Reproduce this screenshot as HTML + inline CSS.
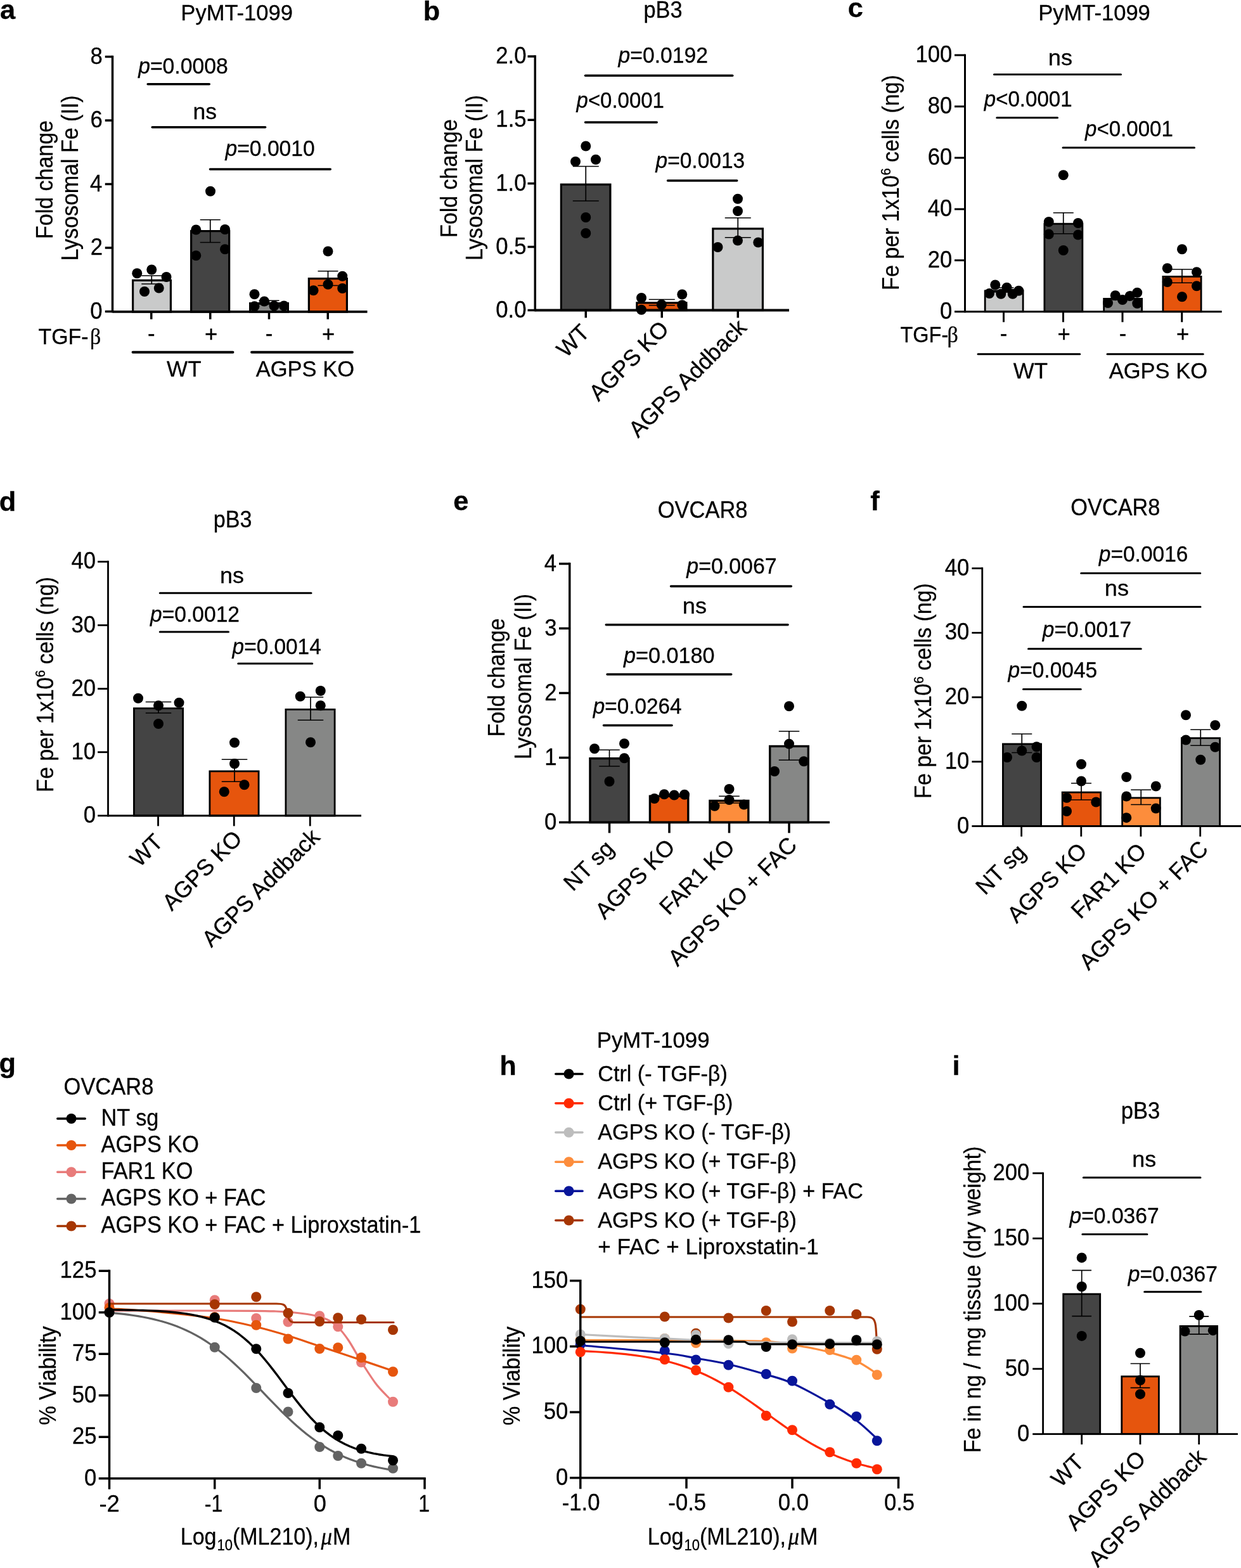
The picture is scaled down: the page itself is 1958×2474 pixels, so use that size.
<!DOCTYPE html>
<html lang="en"><head><meta charset="utf-8"><title>Figure</title>
<style>
html,body{margin:0;padding:0;background:#fff;}
body{width:1958px;height:2474px;overflow:hidden;}
svg{display:block;}
svg circle{stroke:none;}
svg text{font-family:"Liberation Sans",Arial,Helvetica,sans-serif;font-size:34px;fill:#000;stroke:#000;stroke-width:0.3px;}
</style></head>
<body>
<svg xmlns="http://www.w3.org/2000/svg" width="1958" height="2474" viewBox="0 0 1958 2474" stroke="#000">
<rect width="1958" height="2474" fill="#fff" stroke="none"/>
<text transform="translate(-0.07 30.4)" style="font-weight:bold;font-size:43.4px">a</text>
<text transform="translate(285.37 31.8) scale(1.016 1.04)">PyMT-1099</text>
<text transform="translate(83 283.5) rotate(-90) scale(1 1.06)" text-anchor="middle">Fold change</text>
<text transform="translate(123 281) rotate(-90) scale(1 1.06)" text-anchor="middle">Lysosomal Fe (II)</text>
<rect x="209.6" y="442.35" width="59.8" height="49.65" fill="#c9caca" stroke="#000" stroke-width="3.2"/>
<rect x="301.6" y="364.6" width="60.05" height="127.4" fill="#444444" stroke="#000" stroke-width="3.2"/>
<rect x="394.6" y="478.6" width="59.8" height="13.4" fill="#868786" stroke="#000" stroke-width="3.2"/>
<rect x="487.35" y="439.6" width="60.05" height="52.4" fill="#e6550d" stroke="#000" stroke-width="3.2"/>
<path d="M223.25 435H255.25M239.25 435V448M223.25 448H255.25" fill="none" stroke-width="1.7"/>
<path d="M315.75 346.75H347.75M331.75 346.75V382.5M315.75 382.5H347.75" fill="none" stroke-width="1.7"/>
<path d="M408.5 474.25H440.5M424.5 474.25V480M408.5 480H440.5" fill="none" stroke-width="1.7"/>
<path d="M501.5 427.75H533.5M517.5 427.75V450.5M501.5 450.5H533.5" fill="none" stroke-width="1.7"/>
<line x1="177.5" y1="87.75" x2="177.5" y2="493.25" stroke-width="3.5"/>
<line x1="165.75" y1="89.5" x2="177.5" y2="89.5" stroke-width="3.5"/>
<text transform="translate(142.42 100.5) scale(1.02 1.09)">8</text>
<line x1="165.75" y1="190" x2="177.5" y2="190" stroke-width="3.5"/>
<text transform="translate(142.44 201) scale(1.02 1.09)">6</text>
<line x1="165.75" y1="290.5" x2="177.5" y2="290.5" stroke-width="3.5"/>
<text transform="translate(141.93 301.5) scale(1.02 1.09)">4</text>
<line x1="165.75" y1="391" x2="177.5" y2="391" stroke-width="3.5"/>
<text transform="translate(142.66 402) scale(1.02 1.09)">2</text>
<line x1="165.75" y1="491.5" x2="177.5" y2="491.5" stroke-width="3.5"/>
<text transform="translate(142.27 502.5) scale(1.02 1.09)">0</text>
<line x1="177.5" y1="491.8" x2="579.5" y2="491.8" stroke-width="3.8"/>
<line x1="238.75" y1="491.8" x2="238.75" y2="503.7" stroke-width="3.5"/>
<line x1="331.75" y1="491.8" x2="331.75" y2="503.7" stroke-width="3.5"/>
<line x1="424.5" y1="491.8" x2="424.5" y2="503.7" stroke-width="3.5"/>
<line x1="517.25" y1="491.8" x2="517.25" y2="503.7" stroke-width="3.5"/>
<circle cx="216.25" cy="431.25" r="8"/>
<circle cx="239.25" cy="425.5" r="8"/>
<circle cx="262.5" cy="437" r="8"/>
<circle cx="250.75" cy="454.5" r="8"/>
<circle cx="228" cy="460" r="8"/>
<circle cx="332" cy="301.75" r="8"/>
<circle cx="309.25" cy="362.5" r="8"/>
<circle cx="355" cy="362" r="8"/>
<circle cx="355" cy="393.25" r="8"/>
<circle cx="309.25" cy="403.25" r="8"/>
<circle cx="401.5" cy="464.25" r="8"/>
<circle cx="417" cy="475.5" r="8"/>
<circle cx="401.5" cy="483.25" r="8"/>
<circle cx="432.5" cy="482.5" r="8"/>
<circle cx="448" cy="482.5" r="8"/>
<circle cx="517.5" cy="396.5" r="8"/>
<circle cx="540.25" cy="435.75" r="8"/>
<circle cx="517.5" cy="448.75" r="8"/>
<circle cx="494.5" cy="458.25" r="8"/>
<circle cx="540.25" cy="455" r="8"/>
<line x1="233.2" y1="132.8" x2="330.2" y2="132.8" stroke-width="3.6" stroke-linecap="round"/>
<text transform="translate(218.14 116.3) scale(0.992 1.04)"><tspan font-style="italic">p</tspan>=0.0008</text>
<line x1="240.2" y1="200.7" x2="418.6" y2="200.7" stroke-width="3.6" stroke-linecap="round"/>
<text transform="translate(304.44 187.9) scale(1.046 1.04)">ns</text>
<line x1="331.5" y1="267" x2="521.2" y2="267" stroke-width="3.6" stroke-linecap="round"/>
<text transform="translate(355.54 246) scale(0.989 1.04)"><tspan font-style="italic">p</tspan>=0.0010</text>
<text transform="translate(60.44 543.2) scale(0.997 1.04)">TGF-</text>
<text transform="translate(142 543.2) scale(1 1.06)" style="font-family:'Liberation Serif',serif">β</text>
<text transform="translate(232.98 538) scale(1.02 1.04)">-</text>
<text transform="translate(322.88 539) scale(1.02 1.04)">+</text>
<text transform="translate(418.73 538) scale(1.02 1.04)">-</text>
<text transform="translate(507.88 539) scale(1.02 1.04)">+</text>
<line x1="209.5" y1="555.75" x2="367.5" y2="555.75" stroke-width="3.8" stroke-linecap="round"/>
<line x1="397" y1="555.75" x2="556" y2="555.75" stroke-width="3.8" stroke-linecap="round"/>
<text transform="translate(263.05 593.75) scale(1.032 1.04)">WT</text>
<text transform="translate(403.68 593.75) scale(1.016 1.04)">AGPS KO</text>
<text transform="translate(667.64 32)" style="font-weight:bold;font-size:43.4px">b</text>
<text transform="translate(1015.49 28.3) scale(1.01 1.06)">pB3</text>
<text transform="translate(721 281.5) rotate(-90) scale(1 1.06)" text-anchor="middle">Fold change</text>
<text transform="translate(760.75 280.5) rotate(-90) scale(1 1.06)" text-anchor="middle">Lysosomal Fe (II)</text>
<rect x="885.35" y="291.1" width="77.55" height="198.4" fill="#444444" stroke="#000" stroke-width="3.2"/>
<rect x="1004.85" y="477.85" width="78.05" height="11.65" fill="#e6550d" stroke="#000" stroke-width="3.2"/>
<rect x="1124.85" y="360.85" width="78.55" height="128.65" fill="#c9caca" stroke="#000" stroke-width="3.2"/>
<path d="M903.75 262.5H944.75M924.25 262.5V317M903.75 317H944.75" fill="none" stroke-width="1.7"/>
<path d="M1023.75 472.5H1064.75M1044.25 472.5V481.75M1023.75 481.75H1064.75" fill="none" stroke-width="1.7"/>
<path d="M1143.75 343.75H1184.75M1164.25 343.75V374.75M1143.75 374.75H1184.75" fill="none" stroke-width="1.7"/>
<line x1="844.25" y1="87.25" x2="844.25" y2="491.25" stroke-width="3.5"/>
<line x1="832.5" y1="89" x2="844.25" y2="89" stroke-width="3.5"/>
<text transform="translate(782.24 100) scale(1.02 1.09)">2.0</text>
<line x1="832.5" y1="189.25" x2="844.25" y2="189.25" stroke-width="3.5"/>
<text transform="translate(782.35 200.25) scale(1.02 1.09)">1.5</text>
<line x1="832.5" y1="289.5" x2="844.25" y2="289.5" stroke-width="3.5"/>
<text transform="translate(782.24 300.5) scale(1.02 1.09)">1.0</text>
<line x1="832.5" y1="389.5" x2="844.25" y2="389.5" stroke-width="3.5"/>
<text transform="translate(782.35 400.5) scale(1.02 1.09)">0.5</text>
<line x1="832.5" y1="489.5" x2="844.25" y2="489.5" stroke-width="3.5"/>
<text transform="translate(782.24 500.5) scale(1.02 1.09)">0.0</text>
<line x1="844.25" y1="489.5" x2="1245" y2="489.5" stroke-width="3.8"/>
<line x1="924.25" y1="489.5" x2="924.25" y2="501.4" stroke-width="3.5"/>
<line x1="1044.25" y1="489.5" x2="1044.25" y2="501.4" stroke-width="3.5"/>
<line x1="1164.25" y1="489.5" x2="1164.25" y2="501.4" stroke-width="3.5"/>
<circle cx="924.25" cy="230.5" r="8"/>
<circle cx="908" cy="255" r="8"/>
<circle cx="940" cy="251.75" r="8"/>
<circle cx="924.25" cy="343" r="8"/>
<circle cx="924.25" cy="368" r="8"/>
<circle cx="1012" cy="470" r="8"/>
<circle cx="1076.25" cy="464.5" r="8"/>
<circle cx="1043.75" cy="480.5" r="8"/>
<circle cx="1012" cy="488.75" r="8"/>
<circle cx="1076.25" cy="481.25" r="8"/>
<circle cx="1164" cy="313.75" r="8"/>
<circle cx="1164" cy="333" r="8"/>
<circle cx="1164" cy="379.5" r="8"/>
<circle cx="1196.25" cy="382.5" r="8"/>
<circle cx="1132.5" cy="390" r="8"/>
<line x1="923.55" y1="119.25" x2="1155.7" y2="119.25" stroke-width="3.6" stroke-linecap="round"/>
<text transform="translate(975.54 99.3) scale(0.99 1.04)"><tspan font-style="italic">p</tspan>=0.0192</text>
<line x1="923.55" y1="193" x2="1036.2" y2="193" stroke-width="3.6" stroke-linecap="round"/>
<text transform="translate(909.57 170) scale(0.969 1.04)"><tspan font-style="italic">p</tspan>&lt;0.0001</text>
<line x1="1053.55" y1="285" x2="1162.7" y2="285" stroke-width="3.6" stroke-linecap="round"/>
<text transform="translate(1034.58 264.5) scale(0.985 1.04)"><tspan font-style="italic">p</tspan>=0.0013</text>
<text transform="translate(893.05 565.8) rotate(-45) scale(1.045 1.06)">WT</text>
<text transform="translate(944.33 634.52) rotate(-45) scale(1.045 1.06)">AGPS KO</text>
<text transform="translate(1006.83 692.02) rotate(-45) scale(1.045 1.06)">AGPS Addback</text>
<text transform="translate(1337.8 27)" style="font-weight:bold;font-size:43.4px">c</text>
<text transform="translate(1638.27 31.9) scale(1.016 1.04)">PyMT-1099</text>
<text transform="translate(1417.5 288) rotate(-90) scale(1 1.06)" text-anchor="middle">Fe per 1x10<tspan style="font-size:20px" dy="-11.5">6</tspan><tspan dy="11.5"> cells (ng)</tspan></text>
<rect x="1554.15" y="458.9" width="59.95" height="32.85" fill="#c9caca" stroke="#000" stroke-width="2.8"/>
<rect x="1647.9" y="353.15" width="59.95" height="138.6" fill="#444444" stroke="#000" stroke-width="2.8"/>
<rect x="1741.65" y="471.4" width="59.95" height="20.35" fill="#868786" stroke="#000" stroke-width="2.8"/>
<rect x="1834.9" y="436.4" width="60.2" height="55.35" fill="#e6550d" stroke="#000" stroke-width="2.8"/>
<path d="M1567.5 454H1599.5M1583.5 454V461M1567.5 461H1599.5" fill="none" stroke-width="1.7"/>
<path d="M1661.75 335.75H1693.75M1677.75 335.75V368.75M1661.75 368.75H1693.75" fill="none" stroke-width="1.7"/>
<path d="M1755 467H1787M1771 467V473M1755 473H1787" fill="none" stroke-width="1.7"/>
<path d="M1849 425H1881M1865 425V446.25M1849 446.25H1881" fill="none" stroke-width="1.7"/>
<line x1="1522.5" y1="85.5" x2="1522.5" y2="493.25" stroke-width="3"/>
<line x1="1506" y1="87" x2="1522.5" y2="87" stroke-width="3"/>
<text transform="translate(1444.39 98) scale(1.02 1.09)">100</text>
<line x1="1506" y1="168" x2="1522.5" y2="168" stroke-width="3"/>
<text transform="translate(1463.68 179) scale(1.02 1.09)">80</text>
<line x1="1506" y1="249" x2="1522.5" y2="249" stroke-width="3"/>
<text transform="translate(1463.68 260) scale(1.02 1.09)">60</text>
<line x1="1506" y1="330" x2="1522.5" y2="330" stroke-width="3"/>
<text transform="translate(1463.68 341) scale(1.02 1.09)">40</text>
<line x1="1506" y1="410.75" x2="1522.5" y2="410.75" stroke-width="3"/>
<text transform="translate(1463.68 421.75) scale(1.02 1.09)">20</text>
<line x1="1506" y1="491.75" x2="1522.5" y2="491.75" stroke-width="3"/>
<text transform="translate(1482.97 502.75) scale(1.02 1.09)">0</text>
<line x1="1522.5" y1="491.75" x2="1927.75" y2="491.75" stroke-width="3"/>
<line x1="1583.5" y1="491.75" x2="1583.5" y2="508.25" stroke-width="3"/>
<line x1="1677.5" y1="491.75" x2="1677.5" y2="508.25" stroke-width="3"/>
<line x1="1771" y1="491.75" x2="1771" y2="508.25" stroke-width="3"/>
<line x1="1864.75" y1="491.75" x2="1864.75" y2="508.25" stroke-width="3"/>
<circle cx="1570.25" cy="449.5" r="8"/>
<circle cx="1588.5" cy="453.75" r="8"/>
<circle cx="1607.25" cy="458.75" r="8"/>
<circle cx="1561" cy="463" r="8"/>
<circle cx="1579.25" cy="463.75" r="8"/>
<circle cx="1597.75" cy="463.75" r="8"/>
<circle cx="1677.75" cy="276.25" r="8"/>
<circle cx="1654.75" cy="350" r="8"/>
<circle cx="1701" cy="352" r="8"/>
<circle cx="1654.75" cy="369.5" r="8"/>
<circle cx="1701" cy="370.5" r="8"/>
<circle cx="1677.75" cy="395" r="8"/>
<circle cx="1794.25" cy="461.75" r="8"/>
<circle cx="1759.75" cy="466.25" r="8"/>
<circle cx="1782.75" cy="467" r="8"/>
<circle cx="1771" cy="473" r="8"/>
<circle cx="1748" cy="478" r="8"/>
<circle cx="1794.25" cy="478.75" r="8"/>
<circle cx="1865" cy="393.25" r="8"/>
<circle cx="1841.75" cy="423.25" r="8"/>
<circle cx="1888" cy="429.25" r="8"/>
<circle cx="1841.75" cy="445" r="8"/>
<circle cx="1888" cy="451.25" r="8"/>
<circle cx="1865" cy="468.25" r="8"/>
<line x1="1568.5" y1="117.5" x2="1768.5" y2="117.5" stroke-width="3" stroke-linecap="round"/>
<text transform="translate(1653.85 103) scale(1.064 1.04)">ns</text>
<line x1="1572.75" y1="185.75" x2="1668.5" y2="185.75" stroke-width="3" stroke-linecap="round"/>
<text transform="translate(1552.82 168) scale(0.972 1.04)"><tspan font-style="italic">p</tspan>&lt;0.0001</text>
<line x1="1677" y1="233" x2="1884.5" y2="233" stroke-width="3" stroke-linecap="round"/>
<text transform="translate(1712.07 215) scale(0.972 1.04)"><tspan font-style="italic">p</tspan>&lt;0.0001</text>
<text transform="translate(1420.47 540.2) scale(0.955 1.04)">TGF-</text>
<text transform="translate(1494.5 540.2) scale(1 1.06)" style="font-family:'Liberation Serif',serif">β</text>
<text transform="translate(1577.73 537.5) scale(1.02 1.04)">-</text>
<text transform="translate(1668.38 539.2) scale(1.02 1.04)">+</text>
<text transform="translate(1765.73 537.5) scale(1.02 1.04)">-</text>
<text transform="translate(1855.88 539.2) scale(1.02 1.04)">+</text>
<line x1="1543" y1="558.75" x2="1703.75" y2="558.75" stroke-width="3" stroke-linecap="round"/>
<line x1="1747" y1="558.75" x2="1898.25" y2="558.75" stroke-width="3" stroke-linecap="round"/>
<text transform="translate(1598.85 597) scale(1.025 1.04)">WT</text>
<text transform="translate(1749.68 597) scale(1.016 1.04)">AGPS KO</text>
<text transform="translate(-1.28 805.5)" style="font-weight:bold;font-size:43.4px">d</text>
<text transform="translate(336.7 832) scale(1.003 1.06)">pB3</text>
<text transform="translate(83.6 1080) rotate(-90) scale(1 1.06)" text-anchor="middle">Fe per 1x10<tspan style="font-size:20px" dy="-11.5">6</tspan><tspan dy="11.5"> cells (ng)</tspan></text>
<rect x="211.4" y="1117.65" width="77.2" height="169.35" fill="#444444" stroke="#000" stroke-width="2.8"/>
<rect x="330.9" y="1216.9" width="77.2" height="70.1" fill="#e6550d" stroke="#000" stroke-width="2.8"/>
<rect x="450.9" y="1119.4" width="77.2" height="167.6" fill="#868786" stroke="#000" stroke-width="2.8"/>
<path d="M229.75 1107.5H270.25M250 1107.5V1125M229.75 1125H270.25" fill="none" stroke-width="1.7"/>
<path d="M349.75 1198.25H390.25M370 1198.25V1233.25M349.75 1233.25H390.25" fill="none" stroke-width="1.7"/>
<path d="M469.75 1100H510.25M490 1100V1136.25M469.75 1136.25H510.25" fill="none" stroke-width="1.7"/>
<line x1="170.5" y1="884.85" x2="170.5" y2="1288.4" stroke-width="2.8"/>
<line x1="154.1" y1="886.25" x2="170.5" y2="886.25" stroke-width="2.8"/>
<text transform="translate(112.48 897.25) scale(1.02 1.09)">40</text>
<line x1="154.1" y1="986.5" x2="170.5" y2="986.5" stroke-width="2.8"/>
<text transform="translate(112.48 997.5) scale(1.02 1.09)">30</text>
<line x1="154.1" y1="1086.75" x2="170.5" y2="1086.75" stroke-width="2.8"/>
<text transform="translate(112.48 1097.75) scale(1.02 1.09)">20</text>
<line x1="154.1" y1="1186.75" x2="170.5" y2="1186.75" stroke-width="2.8"/>
<text transform="translate(112.48 1197.75) scale(1.02 1.09)">10</text>
<line x1="154.1" y1="1287" x2="170.5" y2="1287" stroke-width="2.8"/>
<text transform="translate(131.77 1298) scale(1.02 1.09)">0</text>
<line x1="170.5" y1="1287" x2="570" y2="1287" stroke-width="2.8"/>
<line x1="249.5" y1="1287" x2="249.5" y2="1303.4" stroke-width="2.8"/>
<line x1="369.25" y1="1287" x2="369.25" y2="1303.4" stroke-width="2.8"/>
<line x1="489.25" y1="1287" x2="489.25" y2="1303.4" stroke-width="2.8"/>
<circle cx="218" cy="1101.75" r="8"/>
<circle cx="282.5" cy="1108.75" r="8"/>
<circle cx="250" cy="1113.25" r="8"/>
<circle cx="250" cy="1142" r="8"/>
<circle cx="370" cy="1171.75" r="8"/>
<circle cx="370" cy="1205" r="8"/>
<circle cx="385.5" cy="1238.25" r="8"/>
<circle cx="353.75" cy="1249.25" r="8"/>
<circle cx="505.75" cy="1090" r="8"/>
<circle cx="473.75" cy="1098.75" r="8"/>
<circle cx="505.75" cy="1113.25" r="8"/>
<circle cx="490" cy="1171.25" r="8"/>
<line x1="252.25" y1="935.75" x2="491" y2="935.75" stroke-width="3" stroke-linecap="round"/>
<text transform="translate(347.11 919.5) scale(1.056 1.04)">ns</text>
<line x1="252.25" y1="997" x2="360.5" y2="997" stroke-width="3" stroke-linecap="round"/>
<text transform="translate(237.09 980.75) scale(0.987 1.04)"><tspan font-style="italic">p</tspan>=0.0012</text>
<line x1="375.75" y1="1047" x2="492.75" y2="1047" stroke-width="3" stroke-linecap="round"/>
<text transform="translate(366.58 1032) scale(0.982 1.04)"><tspan font-style="italic">p</tspan>=0.0014</text>
<text transform="translate(220 1369.7) rotate(-45) scale(1.045 1.06)">WT</text>
<text transform="translate(271.03 1438.42) rotate(-45) scale(1.045 1.06)">AGPS KO</text>
<text transform="translate(333.53 1495.92) rotate(-45) scale(1.045 1.06)">AGPS Addback</text>
<text transform="translate(715.3 805)" style="font-weight:bold;font-size:43.4px">e</text>
<text transform="translate(1037.77 817.3) scale(1.014 1.09)">OVCAR8</text>
<text transform="translate(796.25 1069) rotate(-90) scale(1 1.06)" text-anchor="middle">Fold change</text>
<text transform="translate(837.5 1067.5) rotate(-90) scale(1 1.06)" text-anchor="middle">Lysosomal Fe (II)</text>
<rect x="930.95" y="1196.7" width="61.1" height="100.8" fill="#444444" stroke="#000" stroke-width="3.4"/>
<rect x="1025.45" y="1256.2" width="60.35" height="41.3" fill="#e6550d" stroke="#000" stroke-width="3.4"/>
<rect x="1119.95" y="1263.45" width="60.85" height="34.05" fill="#fd8d3c" stroke="#000" stroke-width="3.4"/>
<rect x="1214.7" y="1177.45" width="60.6" height="120.05" fill="#868786" stroke="#000" stroke-width="3.4"/>
<path d="M945.25 1183.25H977.75M961.5 1183.25V1209M945.25 1209H977.75" fill="none" stroke-width="1.7"/>
<path d="M1039.75 1253H1072.25M1056 1253V1256.5M1039.75 1256.5H1072.25" fill="none" stroke-width="1.7"/>
<path d="M1134.25 1256.25H1166.75M1150.5 1256.25V1267M1134.25 1267H1166.75" fill="none" stroke-width="1.7"/>
<path d="M1228.75 1153.75H1261.25M1245 1153.75V1199.25M1228.75 1199.25H1261.25" fill="none" stroke-width="1.7"/>
<line x1="898.75" y1="887.75" x2="898.75" y2="1299.25" stroke-width="3.5"/>
<line x1="882" y1="889.5" x2="898.75" y2="889.5" stroke-width="3.5"/>
<text transform="translate(858.63 900.5) scale(1.02 1.09)">4</text>
<line x1="882" y1="991.5" x2="898.75" y2="991.5" stroke-width="3.5"/>
<text transform="translate(859.14 1002.5) scale(1.02 1.09)">3</text>
<line x1="882" y1="1093.5" x2="898.75" y2="1093.5" stroke-width="3.5"/>
<text transform="translate(859.36 1104.5) scale(1.02 1.09)">2</text>
<line x1="882" y1="1195.5" x2="898.75" y2="1195.5" stroke-width="3.5"/>
<text transform="translate(859.31 1206.5) scale(1.02 1.09)">1</text>
<line x1="882" y1="1297.5" x2="898.75" y2="1297.5" stroke-width="3.5"/>
<text transform="translate(858.97 1308.5) scale(1.02 1.09)">0</text>
<line x1="898.75" y1="1297.5" x2="1309" y2="1297.5" stroke-width="3.6"/>
<line x1="961.5" y1="1297.5" x2="961.5" y2="1314.3" stroke-width="3.5"/>
<line x1="1056" y1="1297.5" x2="1056" y2="1314.3" stroke-width="3.5"/>
<line x1="1150.5" y1="1297.5" x2="1150.5" y2="1314.3" stroke-width="3.5"/>
<line x1="1245" y1="1297.5" x2="1245" y2="1314.3" stroke-width="3.5"/>
<circle cx="938" cy="1181.25" r="8"/>
<circle cx="985" cy="1173.25" r="8"/>
<circle cx="985" cy="1196.25" r="8"/>
<circle cx="961.5" cy="1233" r="8"/>
<circle cx="1032.5" cy="1260" r="8"/>
<circle cx="1048" cy="1253.25" r="8"/>
<circle cx="1063.75" cy="1254.5" r="8"/>
<circle cx="1080" cy="1253.75" r="8"/>
<circle cx="1150.5" cy="1245" r="8"/>
<circle cx="1150.5" cy="1262" r="8"/>
<circle cx="1127.5" cy="1271.75" r="8"/>
<circle cx="1173.75" cy="1269.5" r="8"/>
<circle cx="1245" cy="1114.25" r="8"/>
<circle cx="1245" cy="1173.75" r="8"/>
<circle cx="1268.25" cy="1201.25" r="8"/>
<circle cx="1222" cy="1217" r="8"/>
<line x1="1058.55" y1="925" x2="1248.3" y2="925" stroke-width="3.6" stroke-linecap="round"/>
<text transform="translate(1083.34 905) scale(0.997 1.04)"><tspan font-style="italic">p</tspan>=0.0067</text>
<line x1="956.3" y1="985.75" x2="1243" y2="985.75" stroke-width="3.6" stroke-linecap="round"/>
<text transform="translate(1076.85 968) scale(1.064 1.04)">ns</text>
<line x1="958.05" y1="1064" x2="1153.7" y2="1064" stroke-width="3.6" stroke-linecap="round"/>
<text transform="translate(984.1 1045.5) scale(1.005 1.04)"><tspan font-style="italic">p</tspan>=0.0180</text>
<line x1="952.55" y1="1144.5" x2="1059.95" y2="1144.5" stroke-width="3.6" stroke-linecap="round"/>
<text transform="translate(935.83 1125.75) scale(0.978 1.04)"><tspan font-style="italic">p</tspan>=0.0264</text>
<text transform="translate(904.12 1407.48) rotate(-45) scale(1.045 1.06)">NT sg</text>
<text transform="translate(954.08 1452.02) rotate(-45) scale(1.045 1.06)">AGPS KO</text>
<text transform="translate(1055.26 1445.34) rotate(-45) scale(1.045 1.06)">FAR1 KO</text>
<text transform="translate(1068.92 1526.18) rotate(-45) scale(1.045 1.06)">AGPS KO + FAC</text>
<text transform="translate(1373.26 805)" style="font-weight:bold;font-size:43.4px">f</text>
<text transform="translate(1689.37 813.2) scale(1.009 1.09)">OVCAR8</text>
<text transform="translate(1469 1090) rotate(-90) scale(1 1.06)" text-anchor="middle">Fe per 1x10<tspan style="font-size:20px" dy="-11.5">6</tspan><tspan dy="11.5"> cells (ng)</tspan></text>
<rect x="1582.4" y="1173.9" width="60.2" height="129.6" fill="#444444" stroke="#000" stroke-width="2.8"/>
<rect x="1676.15" y="1250.15" width="60.45" height="53.35" fill="#e6550d" stroke="#000" stroke-width="2.8"/>
<rect x="1770.65" y="1258.9" width="59.7" height="44.6" fill="#fd8d3c" stroke="#000" stroke-width="2.8"/>
<rect x="1864.4" y="1164.65" width="60.2" height="138.85" fill="#868786" stroke="#000" stroke-width="2.8"/>
<path d="M1596.25 1158H1628.25M1612.25 1158V1187.5M1596.25 1187.5H1628.25" fill="none" stroke-width="1.7"/>
<path d="M1690 1235.75H1722M1706 1235.75V1262M1690 1262H1722" fill="none" stroke-width="1.7"/>
<path d="M1784.25 1246.25H1816.25M1800.25 1246.25V1269.5M1784.25 1269.5H1816.25" fill="none" stroke-width="1.7"/>
<path d="M1878.25 1151.25H1910.25M1894.25 1151.25V1176.25M1878.25 1176.25H1910.25" fill="none" stroke-width="1.7"/>
<line x1="1549.75" y1="895.35" x2="1549.75" y2="1304.9" stroke-width="2.8"/>
<line x1="1533.35" y1="896.75" x2="1549.75" y2="896.75" stroke-width="2.8"/>
<text transform="translate(1490.78 907.75) scale(1.02 1.09)">40</text>
<line x1="1533.35" y1="998.4" x2="1549.75" y2="998.4" stroke-width="2.8"/>
<text transform="translate(1490.78 1009.4) scale(1.02 1.09)">30</text>
<line x1="1533.35" y1="1100.1" x2="1549.75" y2="1100.1" stroke-width="2.8"/>
<text transform="translate(1490.78 1111.1) scale(1.02 1.09)">20</text>
<line x1="1533.35" y1="1201.8" x2="1549.75" y2="1201.8" stroke-width="2.8"/>
<text transform="translate(1490.78 1212.8) scale(1.02 1.09)">10</text>
<line x1="1533.35" y1="1303.5" x2="1549.75" y2="1303.5" stroke-width="2.8"/>
<text transform="translate(1510.07 1314.5) scale(1.02 1.09)">0</text>
<line x1="1549.75" y1="1303.5" x2="1958" y2="1303.5" stroke-width="2.8"/>
<line x1="1611.6" y1="1303.5" x2="1611.6" y2="1319.9" stroke-width="2.8"/>
<line x1="1705.8" y1="1303.5" x2="1705.8" y2="1319.9" stroke-width="2.8"/>
<line x1="1799.9" y1="1303.5" x2="1799.9" y2="1319.9" stroke-width="2.8"/>
<line x1="1893.7" y1="1303.5" x2="1893.7" y2="1319.9" stroke-width="2.8"/>
<circle cx="1612.25" cy="1113.75" r="8"/>
<circle cx="1635.5" cy="1178.25" r="8"/>
<circle cx="1612.25" cy="1184.5" r="8"/>
<circle cx="1589" cy="1195" r="8"/>
<circle cx="1635.5" cy="1195" r="8"/>
<circle cx="1706" cy="1205.75" r="8"/>
<circle cx="1706" cy="1232.5" r="8"/>
<circle cx="1683" cy="1258.75" r="8"/>
<circle cx="1729.25" cy="1265.5" r="8"/>
<circle cx="1683" cy="1280" r="8"/>
<circle cx="1777.25" cy="1226" r="8"/>
<circle cx="1823.75" cy="1240.5" r="8"/>
<circle cx="1777.25" cy="1256.5" r="8"/>
<circle cx="1823.75" cy="1275.5" r="8"/>
<circle cx="1777.25" cy="1290.2" r="8"/>
<circle cx="1871" cy="1128.25" r="8"/>
<circle cx="1917.25" cy="1144.25" r="8"/>
<circle cx="1871" cy="1167.5" r="8"/>
<circle cx="1917.25" cy="1178.75" r="8"/>
<circle cx="1894.25" cy="1198.75" r="8"/>
<line x1="1705.75" y1="904.5" x2="1893.75" y2="904.5" stroke-width="3" stroke-linecap="round"/>
<text transform="translate(1733.83 886.25) scale(0.985 1.04)"><tspan font-style="italic">p</tspan>=0.0016</text>
<line x1="1615" y1="957.5" x2="1894" y2="957.5" stroke-width="3" stroke-linecap="round"/>
<text transform="translate(1742.85 939.5) scale(1.064 1.04)">ns</text>
<line x1="1622.5" y1="1023.75" x2="1800.25" y2="1023.75" stroke-width="3" stroke-linecap="round"/>
<text transform="translate(1644.83 1004.5) scale(0.983 1.04)"><tspan font-style="italic">p</tspan>=0.0017</text>
<line x1="1614.5" y1="1087.5" x2="1705.25" y2="1087.5" stroke-width="3" stroke-linecap="round"/>
<text transform="translate(1590.58 1068.75) scale(0.985 1.04)"><tspan font-style="italic">p</tspan>=0.0045</text>
<text transform="translate(1554.22 1413.48) rotate(-45) scale(1.045 1.06)">NT sg</text>
<text transform="translate(1603.88 1458.02) rotate(-45) scale(1.045 1.06)">AGPS KO</text>
<text transform="translate(1704.66 1451.34) rotate(-45) scale(1.045 1.06)">FAR1 KO</text>
<text transform="translate(1717.62 1532.18) rotate(-45) scale(1.045 1.06)">AGPS KO + FAC</text>
<text transform="translate(-1.48 1692)" style="font-weight:bold;font-size:43.4px">g</text>
<text transform="translate(100.57 1727.1) scale(1.014 1.09)">OVCAR8</text>
<line x1="90.75" y1="1765" x2="134.25" y2="1765" stroke-width="3.5" stroke-linecap="round"/>
<circle cx="112.5" cy="1765" r="8"/>
<text transform="translate(159.6 1775.8) scale(1.008 1.1)">NT sg</text>
<line x1="90.75" y1="1807" x2="134.25" y2="1807" stroke-width="3.5" stroke="#e6550d" stroke-linecap="round"/>
<circle cx="112.5" cy="1807" r="8" fill="#e6550d"/>
<text transform="translate(159.6 1818) scale(1.008 1.1)">AGPS KO</text>
<line x1="90.75" y1="1849.25" x2="134.25" y2="1849.25" stroke-width="3.5" stroke="#e87b7a" stroke-linecap="round"/>
<circle cx="112.5" cy="1849.25" r="8" fill="#e87b7a"/>
<text transform="translate(159.6 1860.2) scale(1.008 1.1)">FAR1 KO</text>
<line x1="90.75" y1="1891.5" x2="134.25" y2="1891.5" stroke-width="3.5" stroke="#636363" stroke-linecap="round"/>
<circle cx="112.5" cy="1891.5" r="8" fill="#636363"/>
<text transform="translate(159.6 1902.4) scale(1.008 1.1)">AGPS KO + FAC</text>
<line x1="90.75" y1="1934.5" x2="134.25" y2="1934.5" stroke-width="3.5" stroke="#a63603" stroke-linecap="round"/>
<circle cx="112.5" cy="1934.5" r="8" fill="#a63603"/>
<text transform="translate(159.6 1945) scale(1.008 1.1)">AGPS KO + FAC + Liproxstatin-1</text>
<text transform="translate(87.5 2170.5) rotate(-90) scale(1 1.06)" text-anchor="middle">% Viability</text>
<path d="M172.5 2071.17L180.08 2071.85L187.67 2072.61L195.25 2073.46L202.84 2074.41L210.42 2075.48L218.01 2076.67L225.59 2078.01L233.18 2079.5L240.76 2081.15L248.35 2083L255.93 2085.04L263.52 2087.31L271.1 2089.82L278.69 2092.59L286.27 2095.64L293.86 2098.99L301.44 2102.65L309.03 2106.64L316.61 2110.98L324.19 2115.68L331.78 2120.74L339.36 2126.17L346.95 2131.97L354.53 2138.12L362.12 2144.62L369.7 2151.44L377.29 2158.56L384.87 2165.93L392.46 2173.52L400.04 2181.28L407.63 2189.16L415.21 2197.09L422.8 2205.03L430.38 2212.92L437.97 2220.69L445.55 2228.31L453.14 2235.71L460.72 2242.86L468.31 2249.73L475.89 2256.27L483.47 2262.47L491.06 2268.31L498.64 2273.79L506.23 2278.9L513.81 2283.65L521.4 2288.03L528.98 2292.07L536.57 2295.78L544.15 2299.16L551.74 2302.25L559.32 2305.05L566.91 2307.6L574.49 2309.89L582.08 2311.97L589.66 2313.84L597.25 2315.52L604.83 2317.03L612.42 2318.38L620 2319.59" fill="none" stroke="#636363" stroke-width="3.2" stroke-linecap="round" stroke-linejoin="round"/>
<circle cx="172.5" cy="2070.75" r="8" fill="#636363"/>
<circle cx="338.75" cy="2125.75" r="8" fill="#636363"/>
<circle cx="404.25" cy="2190" r="8" fill="#636363"/>
<circle cx="454.5" cy="2227.5" r="8" fill="#636363"/>
<circle cx="504.25" cy="2283" r="8" fill="#636363"/>
<circle cx="533.25" cy="2297" r="8" fill="#636363"/>
<circle cx="570" cy="2308.75" r="8" fill="#636363"/>
<circle cx="620" cy="2316.75" r="8" fill="#636363"/>
<path d="M172.5 2068C193.75 2068 262.08 2067.95 300 2068C337.92 2068.05 377.5 2068.13 400 2068.3C422.5 2068.47 425 2068.63 435 2069C445 2069.37 451.67 2069.75 460 2070.5C468.33 2071.25 477.67 2072.33 485 2073.5C492.33 2074.67 498.17 2075.75 504 2077.5C509.83 2079.25 515.17 2081.33 520 2084C524.83 2086.67 528 2088.33 533 2093.5C538 2098.67 543.83 2105.83 550 2115C556.17 2124.17 562.92 2137.25 570 2148.5C577.08 2159.75 585.83 2173.58 592.5 2182.5C599.17 2191.42 605.42 2197.17 610 2202C614.58 2206.83 618.33 2209.92 620 2211.5" fill="none" stroke="#e87b7a" stroke-width="3.2" stroke-linecap="round" stroke-linejoin="round"/>
<circle cx="172.5" cy="2057" r="8" fill="#e87b7a"/>
<circle cx="338.75" cy="2051.25" r="8" fill="#e87b7a"/>
<circle cx="404.25" cy="2080" r="8" fill="#e87b7a"/>
<circle cx="454.5" cy="2085.75" r="8" fill="#e87b7a"/>
<circle cx="504.25" cy="2076.25" r="8" fill="#e87b7a"/>
<circle cx="533.25" cy="2093.25" r="8" fill="#e87b7a"/>
<circle cx="570" cy="2149.5" r="8" fill="#e87b7a"/>
<circle cx="620" cy="2211.75" r="8" fill="#e87b7a"/>
<path d="M172.5 2064.5C185.42 2065.42 222.29 2067.42 250 2070C277.71 2072.58 313.04 2076.08 338.75 2080C364.46 2083.92 384.96 2088.92 404.25 2093.5C423.54 2098.08 437.83 2102.42 454.5 2107.5C471.17 2112.58 485 2117.58 504.25 2124C523.5 2130.42 550.71 2139.5 570 2146C589.29 2152.5 611.67 2160.17 620 2163" fill="none" stroke="#e6550d" stroke-width="3.2" stroke-linecap="round" stroke-linejoin="round"/>
<circle cx="172.5" cy="2063.25" r="8" fill="#e6550d"/>
<circle cx="338.75" cy="2078" r="8" fill="#e6550d"/>
<circle cx="404.25" cy="2090.75" r="8" fill="#e6550d"/>
<circle cx="454.5" cy="2112.5" r="8" fill="#e6550d"/>
<circle cx="504.25" cy="2128" r="8" fill="#e6550d"/>
<circle cx="533.25" cy="2126.25" r="8" fill="#e6550d"/>
<circle cx="570" cy="2142" r="8" fill="#e6550d"/>
<circle cx="620" cy="2164.25" r="8" fill="#e6550d"/>
<path d="M172.5 2066.54L180.08 2066.62L187.67 2066.72L195.25 2066.83L202.84 2066.97L210.42 2067.14L218.01 2067.33L225.59 2067.56L233.18 2067.84L240.76 2068.16L248.35 2068.55L255.93 2069.01L263.52 2069.55L271.1 2070.19L278.69 2070.95L286.27 2071.84L293.86 2072.89L301.44 2074.13L309.03 2075.59L316.61 2077.29L324.19 2079.29L331.78 2081.62L339.36 2084.32L346.95 2087.45L354.53 2091.06L362.12 2095.2L369.7 2099.9L377.29 2105.23L384.87 2111.21L392.46 2117.87L400.04 2125.2L407.63 2133.19L415.21 2141.8L422.8 2150.96L430.38 2160.58L437.97 2170.54L445.55 2180.7L453.14 2190.91L460.72 2201.02L468.31 2210.88L475.89 2220.37L483.47 2229.37L491.06 2237.79L498.64 2245.58L506.23 2252.71L513.81 2259.15L521.4 2264.92L528.98 2270.05L536.57 2274.58L544.15 2278.54L551.74 2282L559.32 2284.99L566.91 2287.57L574.49 2289.79L582.08 2291.69L589.66 2293.32L597.25 2294.7L604.83 2295.88L612.42 2296.88L620 2297.73" fill="none" stroke="#000" stroke-width="3.4" stroke-linecap="round" stroke-linejoin="round"/>
<path d="M172.5 2057H436C446 2057 450.5 2058 452 2066C454 2079 456 2086.5 464 2086.5H621" fill="none" stroke="#a63603" stroke-width="3.2" stroke-linecap="round"/>
<line x1="172.5" y1="2003.5" x2="172.5" y2="2349.75" stroke-width="3.5"/>
<line x1="155.75" y1="2005.25" x2="172.5" y2="2005.25" stroke-width="3.5"/>
<text transform="translate(94.59 2016.25) scale(1.02 1.09)">125</text>
<line x1="155.75" y1="2070.75" x2="172.5" y2="2070.75" stroke-width="3.5"/>
<text transform="translate(94.49 2081.75) scale(1.02 1.09)">100</text>
<line x1="155.75" y1="2136.25" x2="172.5" y2="2136.25" stroke-width="3.5"/>
<text transform="translate(113.88 2147.25) scale(1.02 1.09)">75</text>
<line x1="155.75" y1="2201.75" x2="172.5" y2="2201.75" stroke-width="3.5"/>
<text transform="translate(113.78 2212.75) scale(1.02 1.09)">50</text>
<line x1="155.75" y1="2267.25" x2="172.5" y2="2267.25" stroke-width="3.5"/>
<text transform="translate(113.88 2278.25) scale(1.02 1.09)">25</text>
<line x1="155.75" y1="2332.75" x2="172.5" y2="2332.75" stroke-width="3.5"/>
<text transform="translate(133.07 2343.75) scale(1.02 1.09)">0</text>
<line x1="172.5" y1="2332.75" x2="671.75" y2="2332.75" stroke-width="3.6"/>
<line x1="338.75" y1="2332.75" x2="338.75" y2="2349.55" stroke-width="3.5"/>
<line x1="504.25" y1="2332.75" x2="504.25" y2="2349.55" stroke-width="3.5"/>
<line x1="670" y1="2332.75" x2="670" y2="2349.55" stroke-width="3.5"/>
<circle cx="172.5" cy="2070.75" r="8"/>
<circle cx="338.75" cy="2078.75" r="8"/>
<circle cx="404.25" cy="2128.25" r="8"/>
<circle cx="454.5" cy="2198" r="8"/>
<circle cx="504.25" cy="2252" r="8"/>
<circle cx="533.25" cy="2265" r="8"/>
<circle cx="570" cy="2285.75" r="8"/>
<circle cx="620" cy="2304.25" r="8"/>
<circle cx="338.75" cy="2058" r="8" fill="#a63603"/>
<circle cx="404.25" cy="2046.25" r="8" fill="#a63603"/>
<circle cx="454.5" cy="2071.75" r="8" fill="#a63603"/>
<circle cx="504.25" cy="2085" r="8" fill="#a63603"/>
<circle cx="533.25" cy="2079.25" r="8" fill="#a63603"/>
<circle cx="570" cy="2081.75" r="8" fill="#a63603"/>
<circle cx="620" cy="2098.25" r="8" fill="#a63603"/>
<text transform="translate(156.43 2384.8) scale(1.07 1.06)">-2</text>
<text transform="translate(322.81 2384.8) scale(0.94 1.06)">-1</text>
<text transform="translate(494.69 2384.8) scale(1.064 1.06)">0</text>
<text transform="translate(660.18 2384.8) scale(0.94 1.06)">1</text>
<text transform="translate(284.8 2436.8) scale(1 1.06)">Log<tspan style="font-size:22px" dy="8.5" dx="1">10</tspan><tspan dy="-8.5" dx="0">(ML210),</tspan><tspan dx="3.5" style="font-family:'Liberation Serif','DejaVu Serif',serif;font-size:35px;font-style:italic">μ</tspan><tspan dx="1">M</tspan></text>
<text transform="translate(788.22 1696.25)" style="font-weight:bold;font-size:43.4px">h</text>
<text transform="translate(941.75 1653.1) scale(1.023 1.05)">PyMT-1099</text>
<line x1="876.75" y1="1694.5" x2="919" y2="1694.5" stroke-width="3.5" stroke-linecap="round"/>
<circle cx="897.5" cy="1694.5" r="8"/>
<text transform="translate(943.3 1705.75) scale(1.003 1.03)">Ctrl (- TGF-β)</text>
<line x1="876.75" y1="1740.75" x2="919" y2="1740.75" stroke-width="3.5" stroke="#ff2a00" stroke-linecap="round"/>
<circle cx="897.5" cy="1740.75" r="8" fill="#ff2a00"/>
<text transform="translate(943.3 1751.75) scale(1.003 1.03)">Ctrl (+ TGF-β)</text>
<line x1="876.75" y1="1786.75" x2="919" y2="1786.75" stroke-width="3.5" stroke="#bdbdbd" stroke-linecap="round"/>
<circle cx="897.5" cy="1786.75" r="8" fill="#bdbdbd"/>
<text transform="translate(943.3 1798) scale(1.003 1.03)">AGPS KO (- TGF-β)</text>
<line x1="876.75" y1="1833.25" x2="919" y2="1833.25" stroke-width="3.5" stroke="#fd8d3c" stroke-linecap="round"/>
<circle cx="897.5" cy="1833.25" r="8" fill="#fd8d3c"/>
<text transform="translate(943.3 1844.25) scale(1.003 1.03)">AGPS KO (+ TGF-β)</text>
<line x1="876.75" y1="1879.25" x2="919" y2="1879.25" stroke-width="3.5" stroke="#08159a" stroke-linecap="round"/>
<circle cx="897.5" cy="1879.25" r="8" fill="#08159a"/>
<text transform="translate(943.3 1890.5) scale(1.003 1.03)">AGPS KO (+ TGF-β) + FAC</text>
<line x1="876.75" y1="1925.5" x2="919" y2="1925.5" stroke-width="3.5" stroke="#a63603" stroke-linecap="round"/>
<circle cx="897.5" cy="1925.5" r="8" fill="#a63603"/>
<text transform="translate(943.3 1936.75) scale(1.003 1.03)">AGPS KO (+ TGF-β)</text>
<text transform="translate(943.29 1978.75) scale(1.03 1.03)">+ FAC + Liproxstatin-1</text>
<text transform="translate(820 2171) rotate(-90) scale(1 1.06)" text-anchor="middle">% Viability</text>
<path d="M915.75 2078H1368C1378 2078 1381 2082 1382 2096C1383 2110 1383.5 2120 1383.75 2128" fill="none" stroke="#a63603" stroke-width="3.2" stroke-linecap="round"/>
<circle cx="915.75" cy="2065.75" r="8" fill="#a63603"/>
<circle cx="1048.75" cy="2077.5" r="8" fill="#a63603"/>
<circle cx="1098" cy="2103.75" r="8" fill="#a63603"/>
<circle cx="1149.4" cy="2079.5" r="8" fill="#a63603"/>
<circle cx="1208.75" cy="2068" r="8" fill="#a63603"/>
<circle cx="1250" cy="2085.5" r="8" fill="#a63603"/>
<circle cx="1309.25" cy="2068" r="8" fill="#a63603"/>
<circle cx="1351.25" cy="2073.75" r="8" fill="#a63603"/>
<circle cx="1383.75" cy="2128.75" r="8" fill="#a63603"/>
<path d="M915.75 2122.5C937.92 2124.58 1018.38 2131.58 1048.75 2135C1079.12 2138.42 1081.29 2140.08 1098 2143C1114.71 2145.92 1130.54 2148.21 1149 2152.5C1167.46 2156.79 1191.92 2163.75 1208.75 2168.75C1225.58 2173.75 1233.29 2175 1250 2182.5C1266.71 2190 1292.17 2204 1309 2213.75C1325.83 2223.5 1338.54 2231.62 1351 2241C1363.46 2250.38 1378.29 2265.17 1383.75 2270" fill="none" stroke="#08159a" stroke-width="3.2" stroke-linecap="round" stroke-linejoin="round"/>
<circle cx="915.75" cy="2121.25" r="8" fill="#08159a"/>
<circle cx="1048.75" cy="2131.25" r="8" fill="#08159a"/>
<circle cx="1098" cy="2145.5" r="8" fill="#08159a"/>
<circle cx="1149.4" cy="2153.75" r="8" fill="#08159a"/>
<circle cx="1208.75" cy="2168" r="8" fill="#08159a"/>
<circle cx="1250" cy="2178.75" r="8" fill="#08159a"/>
<circle cx="1309.25" cy="2215.75" r="8" fill="#08159a"/>
<circle cx="1351.25" cy="2235" r="8" fill="#08159a"/>
<circle cx="1383.75" cy="2273.25" r="8" fill="#08159a"/>
<path d="M915.75 2114.5C946.46 2114.58 1052.62 2114.75 1100 2115C1147.38 2115.25 1177.5 2115.33 1200 2116C1222.5 2116.67 1225 2117.75 1235 2119C1245 2120.25 1251.67 2122 1260 2123.5C1268.33 2125 1276.83 2126.29 1285 2128C1293.17 2129.71 1298 2130.5 1309 2133.75C1320 2137 1338.54 2141.88 1351 2147.5C1363.46 2153.12 1378.29 2164.17 1383.75 2167.5" fill="none" stroke="#fd8d3c" stroke-width="3.2" stroke-linecap="round" stroke-linejoin="round"/>
<circle cx="915.75" cy="2114" r="8" fill="#fd8d3c"/>
<circle cx="1048.75" cy="2112" r="8" fill="#fd8d3c"/>
<circle cx="1098" cy="2119" r="8" fill="#fd8d3c"/>
<circle cx="1149.4" cy="2116" r="8" fill="#fd8d3c"/>
<circle cx="1208.75" cy="2118.25" r="8" fill="#fd8d3c"/>
<circle cx="1250" cy="2127.5" r="8" fill="#fd8d3c"/>
<circle cx="1309.25" cy="2130" r="8" fill="#fd8d3c"/>
<circle cx="1351.25" cy="2145.75" r="8" fill="#fd8d3c"/>
<circle cx="1383.75" cy="2169.25" r="8" fill="#fd8d3c"/>
<path d="M915.75 2105.5C929.79 2106.22 977.83 2108.72 1000 2109.8C1022.17 2110.88 1032.42 2111.22 1048.75 2112C1065.08 2112.78 1081.29 2113.75 1098 2114.5C1114.71 2115.25 1130.67 2115.92 1149 2116.5C1167.33 2117.08 1182.83 2117.67 1208 2118C1233.17 2118.33 1270.71 2118.42 1300 2118.5C1329.29 2118.58 1369.79 2118.5 1383.75 2118.5" fill="none" stroke="#bdbdbd" stroke-width="3.2" stroke-linecap="round" stroke-linejoin="round"/>
<circle cx="915.75" cy="2105.5" r="8" fill="#bdbdbd"/>
<circle cx="1048.75" cy="2112" r="8" fill="#bdbdbd"/>
<circle cx="1098" cy="2106.25" r="8" fill="#bdbdbd"/>
<circle cx="1149.4" cy="2120" r="8" fill="#bdbdbd"/>
<circle cx="1208.75" cy="2124" r="8" fill="#bdbdbd"/>
<circle cx="1250" cy="2113.25" r="8" fill="#bdbdbd"/>
<circle cx="1309.25" cy="2119" r="8" fill="#bdbdbd"/>
<circle cx="1351.25" cy="2116" r="8" fill="#bdbdbd"/>
<circle cx="1383.75" cy="2116.25" r="8" fill="#bdbdbd"/>
<path d="M915.75 2131.57L923.68 2131.92L931.61 2132.32L939.55 2132.76L947.48 2133.25L955.41 2133.79L963.34 2134.4L971.28 2135.08L979.21 2135.83L987.14 2136.67L995.07 2137.6L1003 2138.62L1010.94 2139.76L1018.87 2141.03L1026.8 2142.42L1034.73 2143.95L1042.67 2145.65L1050.6 2147.5L1058.53 2149.54L1066.46 2151.77L1074.39 2154.21L1082.33 2156.86L1090.26 2159.73L1098.19 2162.84L1106.12 2166.2L1114.06 2169.8L1121.99 2173.66L1129.92 2177.76L1137.85 2182.12L1145.78 2186.72L1153.72 2191.54L1161.65 2196.58L1169.58 2201.81L1177.51 2207.22L1185.44 2212.76L1193.38 2218.42L1201.31 2224.15L1209.24 2229.93L1217.17 2235.71L1225.11 2241.46L1233.04 2247.14L1240.97 2252.72L1248.9 2258.16L1256.83 2263.44L1264.77 2268.53L1272.7 2273.41L1280.63 2278.06L1288.56 2282.48L1296.5 2286.65L1304.43 2290.57L1312.36 2294.23L1320.29 2297.65L1328.22 2300.82L1336.16 2303.76L1344.09 2306.46L1352.02 2308.95L1359.95 2311.23L1367.89 2313.32L1375.82 2315.22L1383.75 2316.95" fill="none" stroke="#ff2a00" stroke-width="3.2" stroke-linecap="round" stroke-linejoin="round"/>
<path d="M915.75 2117H1174C1178 2117 1178 2120.8 1183 2120.8H1383.75" fill="none" stroke="#000" stroke-width="3.2" stroke-linecap="round"/>
<line x1="915.75" y1="2019" x2="915.75" y2="2349.25" stroke-width="3.5"/>
<line x1="899" y1="2020.75" x2="915.75" y2="2020.75" stroke-width="3.5"/>
<text transform="translate(838.49 2031.75) scale(1.02 1.09)">150</text>
<line x1="899" y1="2124.4" x2="915.75" y2="2124.4" stroke-width="3.5"/>
<text transform="translate(838.49 2135.4) scale(1.02 1.09)">100</text>
<line x1="899" y1="2228.1" x2="915.75" y2="2228.1" stroke-width="3.5"/>
<text transform="translate(857.78 2239.1) scale(1.02 1.09)">50</text>
<line x1="899" y1="2331.75" x2="915.75" y2="2331.75" stroke-width="3.5"/>
<text transform="translate(877.07 2342.75) scale(1.02 1.09)">0</text>
<line x1="915.75" y1="2331.75" x2="1419.25" y2="2331.75" stroke-width="3.6"/>
<line x1="1083" y1="2331.75" x2="1083" y2="2348.55" stroke-width="3.5"/>
<line x1="1250" y1="2331.75" x2="1250" y2="2348.55" stroke-width="3.5"/>
<line x1="1417.5" y1="2331.75" x2="1417.5" y2="2348.55" stroke-width="3.5"/>
<circle cx="915.75" cy="2133.25" r="8" fill="#ff2a00"/>
<circle cx="1048.75" cy="2145" r="8" fill="#ff2a00"/>
<circle cx="1098" cy="2162" r="8" fill="#ff2a00"/>
<circle cx="1149.4" cy="2188.75" r="8" fill="#ff2a00"/>
<circle cx="1208.75" cy="2233.75" r="8" fill="#ff2a00"/>
<circle cx="1250" cy="2256.25" r="8" fill="#ff2a00"/>
<circle cx="1309.25" cy="2291.25" r="8" fill="#ff2a00"/>
<circle cx="1351.25" cy="2308.75" r="8" fill="#ff2a00"/>
<circle cx="1383.75" cy="2318.25" r="8" fill="#ff2a00"/>
<circle cx="915.75" cy="2115.75" r="8"/>
<circle cx="1048.75" cy="2118.25" r="8"/>
<circle cx="1098" cy="2113.75" r="8"/>
<circle cx="1149.4" cy="2114.25" r="8"/>
<circle cx="1208.75" cy="2125" r="8"/>
<circle cx="1250" cy="2121.25" r="8"/>
<circle cx="1309.25" cy="2120.5" r="8"/>
<circle cx="1351.25" cy="2114.25" r="8"/>
<circle cx="1383.75" cy="2121.25" r="8"/>
<text transform="translate(886.78 2383) scale(1.02 1.06)">-1.0</text>
<text transform="translate(1054.33 2383) scale(1.02 1.06)">-0.5</text>
<text transform="translate(1227.79 2383) scale(1.02 1.06)">0.0</text>
<text transform="translate(1394.95 2383) scale(1.02 1.06)">0.5</text>
<text transform="translate(1021.8 2436.8) scale(1 1.06)">Log<tspan style="font-size:22px" dy="8.5" dx="1">10</tspan><tspan dy="-8.5" dx="0">(ML210),</tspan><tspan dx="3.5" style="font-family:'Liberation Serif','DejaVu Serif',serif;font-size:35px;font-style:italic">μ</tspan><tspan dx="1">M</tspan></text>
<text transform="translate(1502.57 1695.6)" style="font-weight:bold;font-size:43.4px">i</text>
<text transform="translate(1768.77 1765.2) scale(1.017 1.06)">pB3</text>
<text transform="translate(1547 2050.5) rotate(-90) scale(1 1.06)" text-anchor="middle">Fe in ng / mg tissue (dry weight)</text>
<rect x="1677.7" y="2041.8" width="58" height="220.9" fill="#444444" stroke="#000" stroke-width="2.8"/>
<rect x="1769.8" y="2171.8" width="58.6" height="90.9" fill="#e6550d" stroke="#000" stroke-width="2.8"/>
<rect x="1862.1" y="2092.4" width="58.5" height="170.3" fill="#868786" stroke="#000" stroke-width="2.8"/>
<path d="M1691.35 2004.4H1722.05M1706.7 2004.4V2076.7M1691.35 2076.7H1722.05" fill="none" stroke-width="1.7"/>
<path d="M1783.65 2151.5H1814.35M1799 2151.5V2189.6M1783.65 2189.6H1814.35" fill="none" stroke-width="1.7"/>
<path d="M1876.35 2077.2H1907.05M1891.7 2077.2V2105.2M1876.35 2105.2H1907.05" fill="none" stroke-width="1.7"/>
<line x1="1645.6" y1="1849.7" x2="1645.6" y2="2264.1" stroke-width="2.8"/>
<line x1="1629.2" y1="1851.1" x2="1645.6" y2="1851.1" stroke-width="2.8"/>
<text transform="translate(1566.39 1862.1) scale(1.02 1.09)">200</text>
<line x1="1629.2" y1="1954" x2="1645.6" y2="1954" stroke-width="2.8"/>
<text transform="translate(1566.39 1965) scale(1.02 1.09)">150</text>
<line x1="1629.2" y1="2056.9" x2="1645.6" y2="2056.9" stroke-width="2.8"/>
<text transform="translate(1566.39 2067.9) scale(1.02 1.09)">100</text>
<line x1="1629.2" y1="2159.8" x2="1645.6" y2="2159.8" stroke-width="2.8"/>
<text transform="translate(1585.68 2170.8) scale(1.02 1.09)">50</text>
<line x1="1629.2" y1="2262.7" x2="1645.6" y2="2262.7" stroke-width="2.8"/>
<text transform="translate(1604.97 2273.7) scale(1.02 1.09)">0</text>
<line x1="1645.6" y1="2262.7" x2="1953" y2="2262.7" stroke-width="2.8"/>
<line x1="1706.7" y1="2262.7" x2="1706.7" y2="2279.1" stroke-width="2.8"/>
<line x1="1799" y1="2262.7" x2="1799" y2="2279.1" stroke-width="2.8"/>
<line x1="1891.7" y1="2262.7" x2="1891.7" y2="2279.1" stroke-width="2.8"/>
<circle cx="1706.7" cy="1984.4" r="8"/>
<circle cx="1706.7" cy="2030" r="8"/>
<circle cx="1706.7" cy="2107.9" r="8"/>
<circle cx="1799" cy="2134.8" r="8"/>
<circle cx="1799" cy="2177.8" r="8"/>
<circle cx="1799" cy="2199.7" r="8"/>
<circle cx="1891.7" cy="2075" r="8"/>
<circle cx="1869.5" cy="2100.5" r="8"/>
<circle cx="1913.8" cy="2099.2" r="8"/>
<line x1="1709.3" y1="1858.1" x2="1894" y2="1858.1" stroke-width="3" stroke-linecap="round"/>
<text transform="translate(1786.21 1840.6) scale(1.058 1.04)">ns</text>
<line x1="1707.9" y1="1947.4" x2="1809.9" y2="1947.4" stroke-width="3" stroke-linecap="round"/>
<text transform="translate(1687.54 1929.6) scale(0.989 1.04)"><tspan font-style="italic">p</tspan>=0.0367</text>
<line x1="1805.8" y1="2038.2" x2="1894.8" y2="2038.2" stroke-width="3" stroke-linecap="round"/>
<text transform="translate(1779.84 2021.7) scale(0.989 1.04)"><tspan font-style="italic">p</tspan>=0.0367</text>
<text transform="translate(1673.2 2348.2) rotate(-45) scale(1.045 1.06)">WT</text>
<text transform="translate(1696.78 2416.92) rotate(-45) scale(1.045 1.06)">AGPS KO</text>
<text transform="translate(1731.98 2474.42) rotate(-45) scale(1.045 1.06)">AGPS Addback</text>
</svg>
</body></html>
